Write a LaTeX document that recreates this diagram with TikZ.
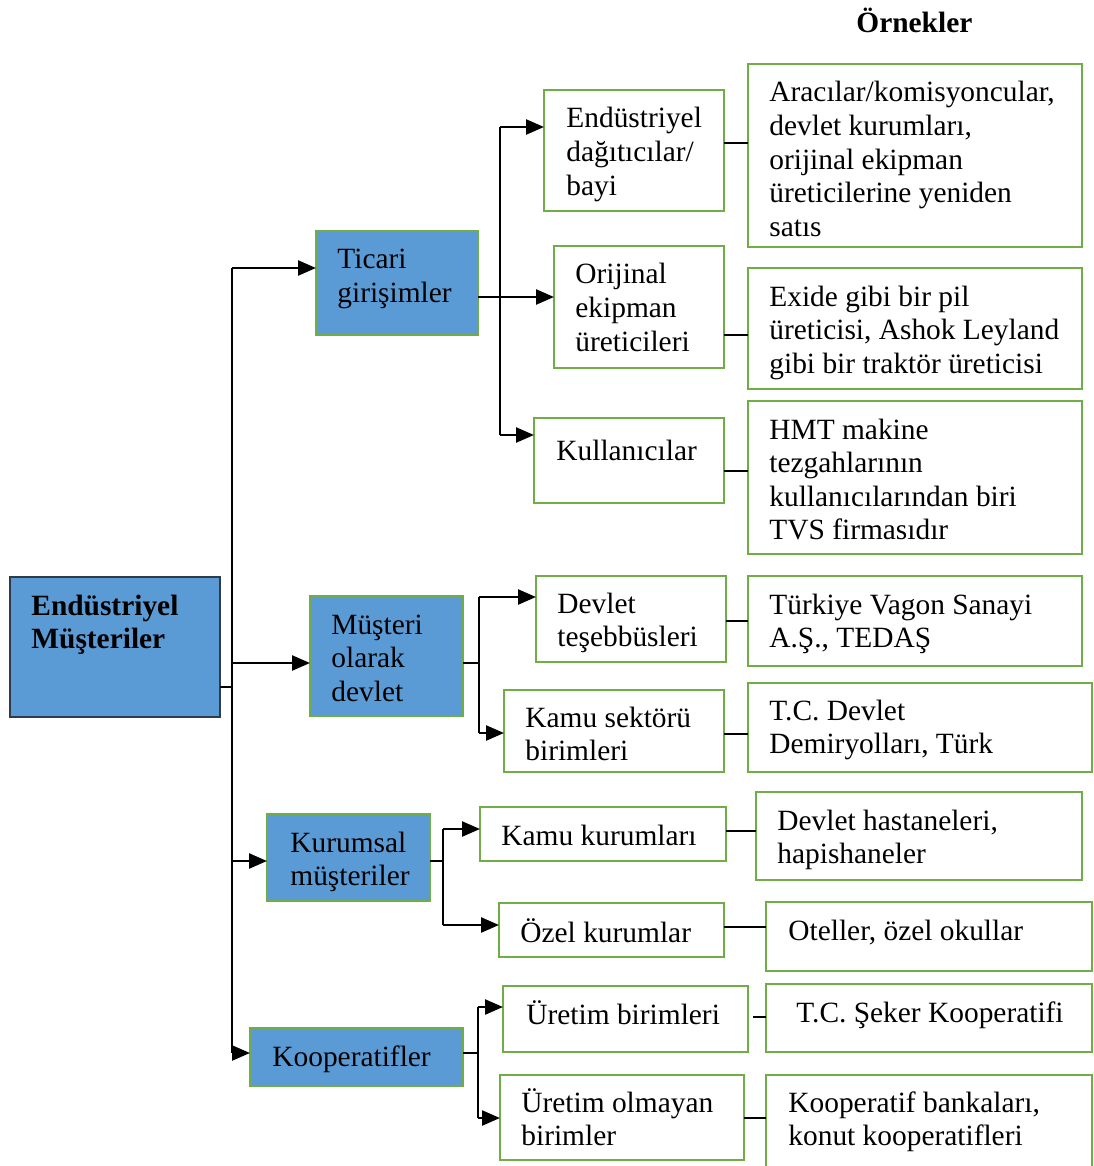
\documentclass[tikz,border=0pt]{standalone}
\usepackage{fontspec}
\setmainfont{Liberation Serif}
\usetikzlibrary{arrows.meta}
\definecolor{boxgreen}{HTML}{70AD47}
\definecolor{boxblue}{HTML}{5B9BD5}
\definecolor{rootedge}{HTML}{2F3B48}

% box: style, name, x1, y1, x2, y2 (north west corner to south east corner)
\newcommand\mkbox[6]{%
  \node[#1, minimum width={(#5-#3)*0.5pt}, minimum height={(#6-#4)*0.5pt}] (#2) at (#3,#4) {};}
% left-aligned lines whose baseline is that of the first line
\newcommand\lines[1]{\begin{tabular}[t]{@{}l@{}}#1\end{tabular}}

\tikzset{
  box/.style={draw=boxgreen, line width=1.4pt, inner sep=0pt, outer sep=0pt, anchor=north west},
  catbox/.style={box, fill=boxblue},
  rootbox/.style={box, draw=rootedge, line width=0.9pt, fill=boxblue},
  lbl/.style={anchor=base west, inner sep=0pt,
    font=\fontsize{14.7}{16.8}\selectfont},
  arr/.style={line width=1.2pt, -{Triangle[length=9pt,width=7.5pt]}},
  link/.style={line width=0.55pt},
}

\begin{document}
\begin{tikzpicture}[x=0.5pt,y=-0.5pt]
\useasboundingbox (0,0) rectangle (1093,1166);

% heading
\node[lbl, font=\fontsize{14.7}{16.8}\selectfont\bfseries] (head) at (856,33) {Örnekler};

% root
\mkbox{rootbox}{root}{10}{577}{220}{717}
\node[lbl, font=\fontsize{14.7}{16.8}\selectfont\bfseries] (t-root) at (31,615) {\lines{Endüstriyel\\Müşteriler}};

% customer categories
\mkbox{catbox}{ti}{316}{231}{478}{335}
\node[lbl] (t-ti) at (337,269) {\lines{Ticari\\girişimler}};
\mkbox{catbox}{md}{310}{596}{463}{716}
\node[lbl] (t-md) at (331,634) {\lines{Müşteri\\olarak\\devlet}};
\mkbox{catbox}{km}{267}{814}{430}{901}
\node[lbl] (t-km) at (290,852) {\lines{Kurumsal\\müşteriler}};
\mkbox{catbox}{ko}{250}{1028}{463}{1086}
\node[lbl] (t-ko) at (272,1066) {Kooperatifler};

% sub-categories
\mkbox{box}{di}{544}{90}{724}{211}
\node[lbl] (t-di) at (566,128) {\lines{Endüstriyel\\dağıtıcılar/\\bayi}};
\mkbox{box}{or}{554}{246}{724}{368}
\node[lbl] (t-or) at (575,284) {\lines{Orijinal\\ekipman\\üreticileri}};
\mkbox{box}{ku}{534}{418}{724}{503}
\node[lbl] (t-ku) at (556,460) {Kullanıcılar};
\mkbox{box}{dt}{536}{576}{726}{662}
\node[lbl] (t-dt) at (557,613) {\lines{Devlet\\teşebbüsleri}};
\mkbox{box}{ks}{504}{690}{724}{772}
\node[lbl] (t-ks) at (525,727) {\lines{Kamu sektörü\\birimleri}};
\mkbox{box}{kk}{480}{807}{726}{861}
\node[lbl] (t-kk) at (501,845) {Kamu kurumları};
\mkbox{box}{oz}{499}{903}{724}{957}
\node[lbl] (t-oz) at (520,942) {Özel kurumlar};
\mkbox{box}{ub}{503}{986}{748}{1052}
\node[lbl] (t-ub) at (526,1024) {Üretim birimleri};
\mkbox{box}{uo}{500}{1075}{744}{1160}
\node[lbl] (t-uo) at (521,1112) {\lines{Üretim olmayan\\birimler}};

% examples
\mkbox{box}{e1}{748}{64}{1082}{247}
\node[lbl] (t-e1) at (769,102) {\lines{Aracılar/komisyoncular,\\devlet kurumları,\\orijinal ekipman\\üreticilerine yeniden\\satıs}};
\mkbox{box}{e2}{748}{268}{1082}{389}
\node[lbl] (t-e2) at (769,306) {\lines{Exide gibi bir pil\\üreticisi, Ashok Leyland\\gibi bir traktör üreticisi}};
\mkbox{box}{e3}{748}{401}{1082}{554}
\node[lbl] (t-e3) at (769,439) {\lines{HMT makine\\tezgahlarının\\kullanıcılarından biri\\TVS firmasıdır}};
\mkbox{box}{e4}{748}{576}{1082}{666}
\node[lbl] (t-e4) at (769,614) {\lines{Türkiye Vagon Sanayi\\A.Ş., TEDAŞ}};
\mkbox{box}{e5}{748}{683}{1092}{772}
\node[lbl] (t-e5) at (769,720) {\lines{T.C. Devlet\\Demiryolları, Türk}};
\mkbox{box}{e6}{756}{792}{1082}{880}
\node[lbl] (t-e6) at (777,830) {\lines{Devlet hastaneleri,\\hapishaneler}};
\mkbox{box}{e7}{766}{902}{1092}{971}
\node[lbl] (t-e7) at (788,940) {Oteller, özel okullar};
\mkbox{box}{e8}{766}{984}{1092}{1052}
\node[lbl] (t-e8) at (796,1022) {T.C. Şeker Kooperatifi};
\mkbox{box}{e9}{766}{1075}{1092}{1180}
\node[lbl] (t-e9) at (788,1112) {\lines{Kooperatif bankaları,\\konut kooperatifleri}};

% trunk from the root to the categories
\coordinate (tk) at (232,687);
\draw[link] (root.east |- tk) -- (tk);
\draw[link] (tk |- 0,268) -- (tk |- 0,1053);
\draw[arr] (tk |- 0,268) -- (ti.west |- 0,268);
\draw[arr] (tk |- 0,663) -- (md.west |- 0,663);
\draw[arr] (tk |- 0,861) -- (km.west |- 0,861);
\draw[arr] (tk |- 0,1053) -- (ko.west |- 0,1053);

% Ticari girişimler branch
\coordinate (b1) at (500,297);
\draw[arr] (ti.east |- b1) -- (or.west |- b1);
\draw[link] (b1 |- 0,127) -- (b1 |- 0,435);
\draw[arr] (b1 |- 0,127) -- (di.west |- 0,127);
\draw[arr] (b1 |- 0,435) -- (ku.west |- 0,435);

% Müşteri olarak devlet branch
\coordinate (b2) at (479,663);
\draw[link] (md.east |- b2) -- (b2);
\draw[link] (b2 |- 0,597) -- (b2 |- 0,733);
\draw[arr] (b2 |- 0,597) -- (dt.west |- 0,597);
\draw[arr] (b2 |- 0,733) -- (ks.west |- 0,733);

% Kurumsal müşteriler branch
\coordinate (b3) at (443,861);
\draw[link] (km.east |- b3) -- (b3);
\draw[link] (b3 |- 0,829) -- (b3 |- 0,925);
\draw[arr] (b3 |- 0,829) -- (kk.west |- 0,829);
\draw[arr] (b3 |- 0,925) -- (oz.west |- 0,925);

% Kooperatifler branch
\coordinate (b4) at (478,1053);
\draw[link] (ko.east |- b4) -- (b4);
\draw[link] (b4 |- 0,1007) -- (b4 |- 0,1118);
\draw[arr] (b4 |- 0,1007) -- (ub.west |- 0,1007);
\draw[arr] (b4 |- 0,1118) -- (uo.west |- 0,1118);

% sub-categories to their examples
\draw[link] (di.east |- 0,143) -- (e1.west |- 0,143);
\draw[link] (or.east |- 0,335) -- (e2.west |- 0,335);
\draw[link] (ku.east |- 0,471) -- (e3.west |- 0,471);
\draw[link] (dt.east |- 0,621) -- (e4.west |- 0,621);
\draw[link] (ks.east |- 0,734) -- (e5.west |- 0,734);
\draw[link] (kk.east |- 0,831) -- (e6.west |- 0,831);
\draw[link] (oz.east |- 0,927) -- (e7.west |- 0,927);
\draw[link, shorten <=2.5pt] (ub.east |- 0,1017) -- (e8.west |- 0,1017);
\draw[link] (uo.east |- 0,1118) -- (e9.west |- 0,1118);
\end{tikzpicture}
\end{document}
